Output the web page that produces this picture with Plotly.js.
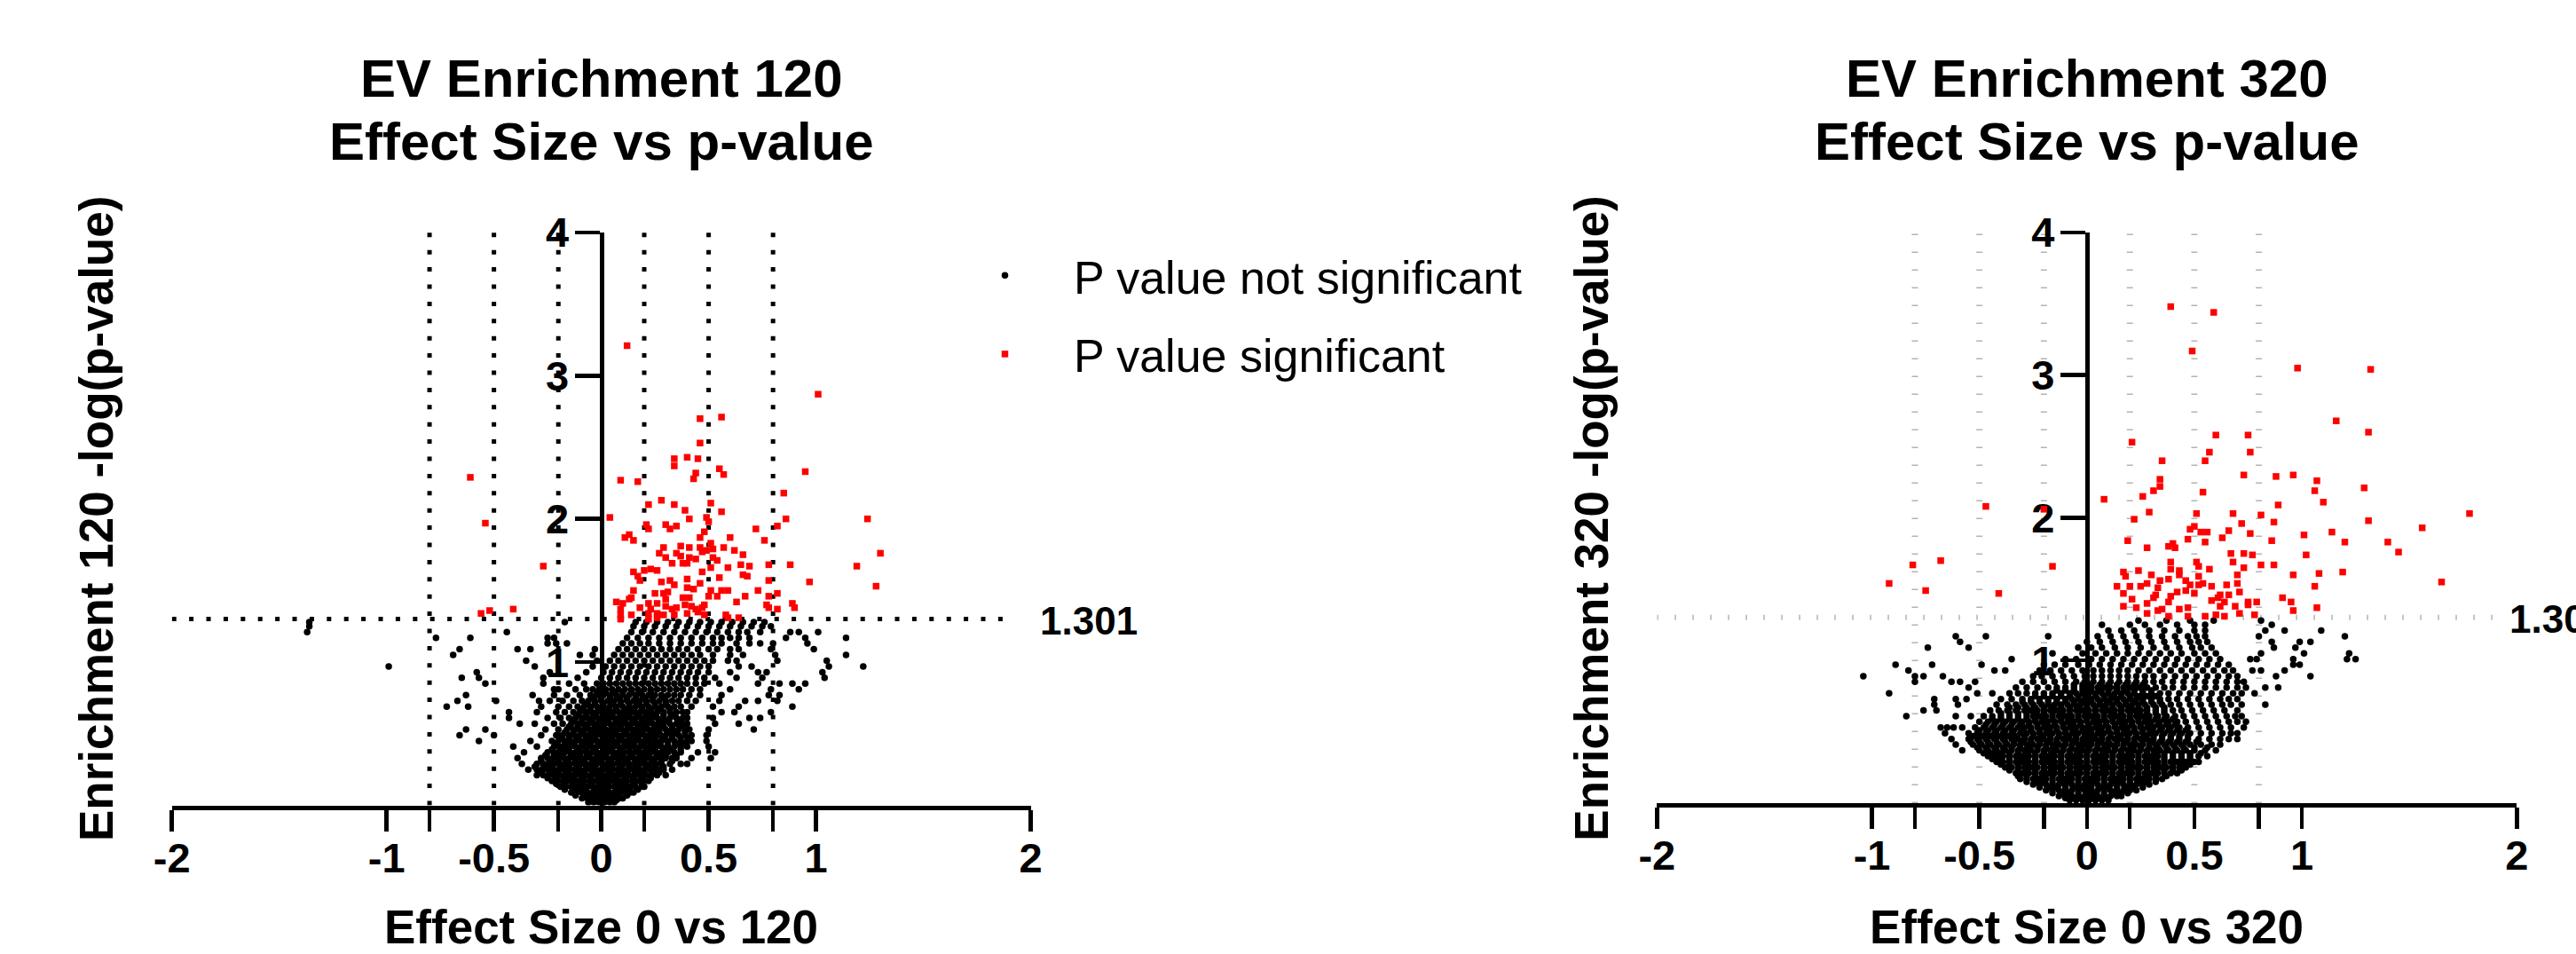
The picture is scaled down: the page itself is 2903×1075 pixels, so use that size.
<!DOCTYPE html>
<html><head><meta charset="utf-8">
<script src="https://cdn.plot.ly/plotly-3.0.1.min.js"></script>
<style>html,body{margin:0;padding:0;background:#fff;} #chart{width:2903px;height:1075px;}</style>
</head><body><div id="chart"></div>
<script>
// ---------- DATA ----------
const xTickVals = [-2, -1, -0.8, -0.5, -0.2, 0, 0.2, 0.5, 0.8, 1, 2];
const xTickText = ['-2', '-1', '', '-0.5', '', '0', '', '0.5', '', '1', '2'];
const yTickVals = [1, 2, 3, 4];
const effectCutoffs = [-0.8, -0.5, -0.2, 0.2, 0.5, 0.8];
const pThreshold = 1.301;
const legendNames = ['P value not significant', 'P value significant'];

// EV Enrichment 120 : significant (red)
const sig120X = [0.12,1.01,0.46,0.56,0.46,0.34,0.34,0.40,0.45,0.55,0.57,0.44,0.43,0.95,0.09,0.17,0.85,0.28,0.22,0.34,0.39,0.51,0.56,0.04,0.41,0.49,0.50,0.86,0.82,1.24,0.21,0.22,0.30,0.32,0.35,0.72,0.13,0.11,0.15,0.48,0.46,0.60,0.76,1.30,0.29,0.37,0.41,0.46,0.51,0.52,0.57,0.62,0.66,0.27,0.30,0.35,0.37,0.41,0.44,0.47,0.49,0.52,0.54,0.38,0.40,0.33,0.65,0.69,0.78,0.88,1.19,0.23,0.26,0.20,0.15,0.51,0.59,0.47,0.17,0.18,0.66,0.68,0.55,0.40,0.28,0.32,0.34,0.46,0.78,0.97,1.28,0.15,0.25,0.29,0.31,0.40,0.43,0.38,0.41,0.51,0.56,0.59,0.50,0.54,0.73,0.78,0.82,0.67,0.13,0.14,0.30,0.22,0.07,0.10,0.26,0.63,0.77,0.89,0.90,0.09,0.18,0.23,0.30,0.35,0.33,0.42,0.39,0.44,0.47,0.48,0.78,0.82,0.09,0.14,0.22,0.26,0.29,0.34,0.40,0.45,0.48,0.58,0.64,0.09,0.22,0.26,0.59,-0.61,-0.54,-0.27,-0.56,-0.52,-0.41];
const sig120Y = [3.21,2.87,2.70,2.71,2.53,2.42,2.37,2.43,2.42,2.35,2.31,2.32,2.28,2.33,2.27,2.26,2.18,2.13,2.10,2.10,2.06,2.11,2.05,2.01,2.00,2.01,1.98,2.00,1.95,2.00,1.96,1.93,1.96,1.93,1.95,1.93,1.89,1.87,1.85,1.91,1.87,1.87,1.85,1.76,1.80,1.81,1.80,1.80,1.83,1.79,1.80,1.78,1.75,1.76,1.73,1.76,1.74,1.73,1.72,1.77,1.78,1.73,1.71,1.69,1.69,1.69,1.68,1.67,1.68,1.68,1.67,1.65,1.64,1.64,1.63,1.66,1.66,1.63,1.60,1.57,1.61,1.60,1.59,1.58,1.56,1.57,1.54,1.55,1.57,1.56,1.53,1.50,1.48,1.48,1.49,1.52,1.51,1.45,1.45,1.50,1.50,1.50,1.46,1.46,1.50,1.46,1.48,1.46,1.44,1.45,1.44,1.41,1.42,1.41,1.41,1.42,1.40,1.41,1.38,1.37,1.38,1.37,1.39,1.38,1.37,1.39,1.40,1.37,1.38,1.40,1.38,1.37,1.33,1.33,1.34,1.34,1.33,1.33,1.34,1.35,1.33,1.33,1.31,1.30,1.30,1.31,1.31,2.29,1.97,1.67,1.34,1.36,1.37];

// EV Enrichment 120 : not significant (black), rows of [ -log(p), effect sizes ]
const ns120Rows = [
 [0.02,[-0.06,-0.035,-0.01,0.015,0.04,0.06]],
 [0.035,[-0.05,-0.02,0.01,0.04,0.07]],
 [0.05,[-0.09,-0.065,-0.04,-0.015,0.01,0.035,0.06,0.085,0.10]],
 [0.07,[-0.12,-0.08,-0.05,-0.02,0.02,0.05,0.08,0.12]],
 [0.09,[-0.14,-0.115,-0.09,-0.065,-0.04,-0.015,0.01,0.035,0.06,0.085,0.11,0.135,0.15]],
 [0.11,[-0.17,-0.13,-0.10,-0.07,-0.03,0.0,0.03,0.07,0.10,0.13,0.17]],
 [0.13,[-0.19,-0.165,-0.14,-0.115,-0.09,-0.065,-0.04,-0.015,0.01,0.035,0.06,0.085,0.11,0.135,0.16,0.19,0.20]],
 [0.15,[-0.21,-0.17,-0.13,-0.09,-0.05,-0.01,0.03,0.07,0.11,0.15,0.19]],
 [0.17,[-0.23,-0.205,-0.18,-0.155,-0.13,-0.105,-0.08,-0.055,-0.03,-0.005,0.02,0.045,0.07,0.095,0.12,0.145,0.17,0.195,0.22]],
 [0.19,[-0.25,-0.21,-0.17,-0.13,-0.09,-0.05,-0.01,0.03,0.07,0.11,0.15,0.19,0.23]],
 [0.21,[-0.30,-0.27,-0.245,-0.22,-0.195,-0.17,-0.145,-0.12,-0.095,-0.07,-0.045,-0.02,0.005,0.03,0.055,0.08,0.105,0.13,0.155,0.18,0.205,0.23,0.26,0.30]],
 [0.23,[-0.28,-0.24,-0.20,-0.16,-0.12,-0.08,-0.04,0.0,0.04,0.08,0.12,0.16,0.20,0.24,0.27]],
 [0.25,[-0.34,-0.30,-0.275,-0.25,-0.225,-0.2,-0.175,-0.15,-0.125,-0.1,-0.075,-0.05,-0.025,0,0.025,0.05,0.075,0.1,0.125,0.15,0.175,0.2,0.225,0.25,0.27,0.29,0.33]],
 [0.27,[-0.31,-0.27,-0.23,-0.19,-0.15,-0.11,-0.07,-0.03,0.01,0.05,0.09,0.13,0.17,0.21,0.25,0.29]],
 [0.29,[-0.37,-0.30,-0.27,-0.245,-0.22,-0.195,-0.17,-0.145,-0.12,-0.095,-0.07,-0.045,-0.02,0.005,0.03,0.055,0.08,0.105,0.13,0.155,0.18,0.205,0.23,0.255,0.28,0.32,0.37,0.40]],
 [0.31,[-0.28,-0.24,-0.20,-0.16,-0.12,-0.08,-0.04,0.0,0.04,0.08,0.12,0.16,0.20,0.24,0.28,0.33]],
 [0.33,[-0.39,-0.28,-0.25,-0.225,-0.2,-0.175,-0.15,-0.125,-0.1,-0.075,-0.05,-0.025,0,0.025,0.05,0.075,0.1,0.125,0.15,0.175,0.2,0.225,0.25,0.275,0.30,0.33,0.35,0.42,0.51]],
 [0.35,[-0.26,-0.22,-0.18,-0.14,-0.10,-0.06,-0.02,0.02,0.06,0.10,0.14,0.18,0.22,0.26,0.30,0.35]],
 [0.37,[-0.36,-0.25,-0.22,-0.195,-0.17,-0.145,-0.12,-0.095,-0.07,-0.045,-0.02,0.005,0.03,0.055,0.08,0.105,0.13,0.155,0.18,0.205,0.23,0.255,0.28,0.31,0.34,0.37,0.45,0.53]],
 [0.39,[-0.23,-0.19,-0.15,-0.11,-0.07,-0.03,0.01,0.05,0.09,0.13,0.17,0.21,0.25,0.29,0.33,0.37]],
 [0.41,[-0.41,-0.30,-0.22,-0.195,-0.17,-0.145,-0.12,-0.095,-0.07,-0.045,-0.02,0.005,0.03,0.055,0.08,0.105,0.13,0.155,0.18,0.205,0.23,0.255,0.28,0.31,0.34,0.37,0.40,0.50]],
 [0.43,[-0.21,-0.17,-0.13,-0.09,-0.05,-0.01,0.03,0.07,0.11,0.15,0.19,0.23,0.27,0.31,0.35,0.39]],
 [0.45,[-0.57,-0.33,-0.23,-0.20,-0.17,-0.145,-0.12,-0.095,-0.07,-0.045,-0.02,0.005,0.03,0.055,0.08,0.105,0.13,0.155,0.18,0.205,0.23,0.255,0.28,0.31,0.34,0.37,0.40,0.42,0.49]],
 [0.47,[-0.19,-0.15,-0.11,-0.07,-0.03,0.01,0.05,0.09,0.13,0.17,0.21,0.25,0.29,0.33,0.37,0.41]],
 [0.49,[-0.66,-0.50,-0.28,-0.21,-0.18,-0.15,-0.125,-0.1,-0.075,-0.05,-0.025,0,0.025,0.05,0.075,0.1,0.125,0.15,0.175,0.2,0.225,0.25,0.275,0.30,0.33,0.36,0.39,0.42,0.49]],
 [0.51,[-0.17,-0.13,-0.09,-0.05,-0.01,0.03,0.07,0.11,0.15,0.19,0.23,0.27,0.31,0.35,0.39]],
 [0.53,[-0.63,-0.54,-0.26,-0.20,-0.16,-0.13,-0.105,-0.08,-0.055,-0.03,-0.005,0.02,0.045,0.07,0.095,0.12,0.145,0.17,0.195,0.22,0.245,0.27,0.30,0.33,0.36,0.39,0.41,0.50,0.71]],
 [0.55,[-0.15,-0.11,-0.07,-0.03,0.01,0.05,0.09,0.13,0.17,0.21,0.25,0.29,0.33,0.37]],
 [0.57,[-0.38,-0.31,-0.22,-0.18,-0.14,-0.11,-0.085,-0.06,-0.035,-0.01,0.015,0.04,0.065,0.09,0.115,0.14,0.165,0.19,0.215,0.24,0.265,0.29,0.32,0.35,0.38,0.40,0.53,0.64]],
 [0.59,[-0.13,-0.09,-0.05,-0.01,0.03,0.07,0.11,0.15,0.19,0.23,0.27,0.31,0.36]],
 [0.61,[-0.43,-0.25,-0.19,-0.15,-0.12,-0.09,-0.065,-0.04,-0.015,0.01,0.035,0.06,0.085,0.11,0.135,0.16,0.185,0.21,0.235,0.26,0.29,0.32,0.35,0.38,0.40,0.52,0.69,0.74]],
 [0.63,[-0.11,-0.07,-0.03,0.01,0.05,0.09,0.13,0.17,0.21,0.25,0.29,0.34]],
 [0.65,[-0.43,-0.30,-0.21,-0.17,-0.13,-0.10,-0.07,-0.045,-0.02,0.005,0.03,0.055,0.08,0.105,0.13,0.155,0.18,0.205,0.23,0.26,0.29,0.32,0.35,0.38,0.40,0.56,0.62,0.79]],
 [0.67,[-0.09,-0.05,-0.01,0.03,0.07,0.11,0.15,0.19,0.23,0.27,0.32]],
 [0.69,[-0.72,-0.62,-0.28,-0.20,-0.15,-0.11,-0.08,-0.05,-0.02,0.01,0.04,0.07,0.10,0.13,0.16,0.19,0.22,0.25,0.28,0.31,0.34,0.37,0.42,0.52,0.64,0.89]],
 [0.71,[-0.07,-0.03,0.01,0.05,0.09,0.13,0.17,0.21,0.25,0.30]],
 [0.73,[-0.67,-0.49,-0.29,-0.24,-0.18,-0.13,-0.09,-0.06,-0.03,0,0.03,0.06,0.09,0.12,0.15,0.18,0.21,0.24,0.27,0.30,0.33,0.36,0.40,0.44,0.55,0.67,0.73,0.82]],
 [0.75,[-0.04,0.0,0.04,0.08,0.12,0.16,0.20,0.24,0.29]],
 [0.77,[-0.63,-0.32,-0.22,-0.16,-0.10,-0.05,-0.02,0.01,0.04,0.07,0.10,0.13,0.16,0.19,0.22,0.25,0.28,0.31,0.34,0.37,0.41,0.46,0.56,0.78,0.83]],
 [0.79,[-0.02,0.02,0.06,0.10,0.14,0.18,0.23]],
 [0.81,[-0.22,-0.20,-0.12,-0.07,-0.04,-0.01,0.02,0.05,0.08,0.11,0.14,0.17,0.20,0.23,0.26,0.29,0.32,0.35,0.38,0.42,0.46,0.60,0.79,0.92]],
 [0.85,[-0.54,-0.27,-0.15,-0.08,-0.02,0.01,0.04,0.07,0.10,0.13,0.16,0.19,0.22,0.25,0.28,0.31,0.34,0.37,0.40,0.44,0.48,0.55,0.73,0.83,0.89,0.95]],
 [0.89,[-0.65,-0.57,-0.27,-0.11,0.00,0.04,0.08,0.12,0.16,0.20,0.24,0.28,0.32,0.36,0.40,0.44,0.48,0.53,0.63,0.75,1.04]],
 [0.93,[-0.58,-0.24,-0.07,0.01,0.05,0.09,0.13,0.17,0.21,0.25,0.29,0.33,0.37,0.41,0.45,0.50,0.60,0.73,0.77,1.03]],
 [0.97,[-0.99,-0.31,-0.04,0.02,0.06,0.10,0.14,0.18,0.22,0.26,0.30,0.34,0.38,0.42,0.46,0.50,0.64,0.70,1.06,1.22]],
 [1.01,[-0.35,-0.02,0.04,0.08,0.12,0.16,0.20,0.24,0.28,0.32,0.36,0.40,0.44,0.48,0.52,0.59,0.63,0.82,1.05]],
 [1.05,[-0.69,-0.10,-0.04,0.06,0.10,0.14,0.18,0.22,0.26,0.30,0.34,0.38,0.42,0.46,0.52,0.60,0.66,0.81,1.14]],
 [1.09,[-0.66,-0.39,-0.33,-0.03,0.08,0.12,0.16,0.20,0.24,0.28,0.32,0.36,0.40,0.45,0.50,0.54,0.60,0.64,0.79,0.99]],
 [1.13,[-0.25,-0.21,-0.16,0.10,0.14,0.18,0.22,0.27,0.32,0.37,0.42,0.47,0.52,0.56,0.63,0.69,0.74,0.80,0.96]],
 [1.17,[-0.77,-0.61,-0.25,-0.22,0.12,0.17,0.22,0.27,0.32,0.37,0.42,0.47,0.52,0.56,0.60,0.64,0.69,0.86,0.95,1.14]],
 [1.21,[-1.37,-0.44,0.14,0.19,0.24,0.29,0.34,0.39,0.44,0.49,0.54,0.59,0.64,0.68,0.74,0.88,0.92,1.01]],
 [1.25,[-1.36,0.15,0.20,0.25,0.30,0.35,0.40,0.45,0.50,0.55,0.60,0.65,0.70,0.75,0.79]],
 [1.28,[-1.36,-0.17,0.16,0.21,0.26,0.31,0.36,0.41,0.46,0.51,0.56,0.61,0.66,0.71,0.76]]
];

// EV Enrichment 320 : significant (red)
const sig320X = [0.39,0.59,0.49,0.98,1.32,1.16,1.31,0.21,0.60,0.75,0.57,0.76,0.35,0.55,0.73,0.88,0.96,1.07,0.34,0.34,0.31,0.26,0.54,1.06,1.29,0.08,1.10,0.89,0.29,0.51,0.68,0.81,1.78,0.22,0.72,0.87,1.31,0.50,0.48,0.53,0.56,0.66,0.76,1.01,1.14,1.56,0.63,0.19,0.47,0.55,0.86,1.20,1.40,0.40,0.38,0.41,0.28,1.45,0.67,0.73,0.77,1.02,0.68,0.81,0.87,0.51,0.39,0.52,0.39,0.57,0.73,0.24,0.43,0.17,0.18,0.30,0.96,1.08,1.19,0.43,0.38,0.52,0.70,0.34,0.48,0.54,0.58,0.65,0.70,1.06,1.65,0.14,0.20,0.25,0.28,0.33,0.46,0.71,0.17,0.21,0.31,0.32,0.39,0.42,0.50,0.62,0.66,0.91,0.58,0.64,0.38,0.79,0.75,0.95,0.28,0.69,0.62,0.17,0.23,0.35,0.43,0.47,0.75,1.07,0.96,0.78,0.71,0.55,0.60,0.64,0.47,0.38,0.28,0.33,0.61,0.52,0.46,-0.47,-0.20,-0.16,-0.68,-0.81,-0.92,-0.75,-0.41];
const sig320Y = [3.48,3.44,3.17,3.05,3.04,2.68,2.60,2.53,2.58,2.58,2.46,2.46,2.40,2.40,2.30,2.29,2.30,2.26,2.27,2.22,2.19,2.15,2.18,2.19,2.21,2.13,2.11,2.09,2.04,2.03,2.03,2.02,2.03,1.99,1.96,1.97,1.98,1.94,1.92,1.90,1.90,1.91,1.89,1.88,1.90,1.93,1.86,1.84,1.85,1.83,1.84,1.83,1.83,1.82,1.80,1.79,1.79,1.76,1.75,1.75,1.74,1.74,1.69,1.67,1.67,1.69,1.69,1.66,1.64,1.64,1.65,1.63,1.63,1.62,1.59,1.60,1.60,1.61,1.62,1.60,1.57,1.59,1.60,1.56,1.53,1.54,1.52,1.53,1.54,1.52,1.55,1.52,1.52,1.52,1.54,1.51,1.49,1.48,1.47,1.43,1.44,1.46,1.45,1.48,1.47,1.46,1.46,1.44,1.42,1.41,1.41,1.41,1.41,1.41,1.40,1.38,1.38,1.38,1.37,1.36,1.36,1.37,1.39,1.37,1.35,1.32,1.33,1.31,1.32,1.31,1.31,1.31,1.33,1.35,1.44,1.53,1.56,2.08,2.06,1.66,1.70,1.67,1.54,1.49,1.47];

// EV Enrichment 320 : not significant (black)
const ns320Rows = [
 [0.02,[-0.08,-0.05,-0.02,0.01,0.04,0.07,0.10]],
 [0.035,[-0.10,-0.06,-0.03,0.0,0.03,0.06,0.09]],
 [0.05,[-0.13,-0.10,-0.07,-0.04,-0.01,0.02,0.05,0.08,0.11,0.14,0.16]],
 [0.07,[-0.16,-0.12,-0.08,-0.04,0.0,0.04,0.08,0.12,0.16,0.19]],
 [0.09,[-0.19,-0.16,-0.13,-0.10,-0.07,-0.04,-0.01,0.02,0.05,0.08,0.11,0.14,0.17,0.20,0.23]],
 [0.11,[-0.22,-0.18,-0.14,-0.10,-0.06,-0.02,0.02,0.06,0.10,0.14,0.18,0.22,0.26]],
 [0.13,[-0.25,-0.22,-0.19,-0.16,-0.13,-0.10,-0.07,-0.04,-0.01,0.02,0.05,0.08,0.11,0.14,0.17,0.20,0.23,0.26,0.29]],
 [0.15,[-0.28,-0.24,-0.20,-0.16,-0.12,-0.08,-0.04,0.0,0.04,0.08,0.12,0.16,0.20,0.24,0.28,0.32]],
 [0.17,[-0.31,-0.28,-0.25,-0.22,-0.19,-0.16,-0.13,-0.10,-0.07,-0.04,-0.01,0.02,0.05,0.08,0.11,0.14,0.17,0.20,0.23,0.26,0.29,0.32,0.35]],
 [0.19,[-0.32,-0.28,-0.24,-0.20,-0.16,-0.12,-0.08,-0.04,0.0,0.04,0.08,0.12,0.16,0.20,0.24,0.28,0.32,0.37]],
 [0.21,[-0.33,-0.30,-0.27,-0.24,-0.21,-0.18,-0.15,-0.12,-0.09,-0.06,-0.03,0,0.03,0.06,0.09,0.12,0.15,0.18,0.21,0.24,0.27,0.30,0.33,0.36,0.39,0.42]],
 [0.23,[-0.36,-0.32,-0.28,-0.24,-0.20,-0.16,-0.12,-0.08,-0.04,0.0,0.04,0.08,0.12,0.16,0.20,0.24,0.28,0.32,0.36,0.40,0.44]],
 [0.25,[-0.38,-0.35,-0.32,-0.29,-0.26,-0.23,-0.20,-0.17,-0.14,-0.11,-0.08,-0.05,-0.02,0.01,0.04,0.07,0.10,0.13,0.16,0.19,0.22,0.25,0.28,0.31,0.34,0.37,0.40,0.43,0.46]],
 [0.27,[-0.40,-0.36,-0.32,-0.28,-0.24,-0.20,-0.16,-0.12,-0.08,-0.04,0.0,0.04,0.08,0.12,0.16,0.20,0.24,0.28,0.32,0.36,0.40,0.44,0.48]],
 [0.29,[-0.42,-0.39,-0.36,-0.33,-0.30,-0.27,-0.24,-0.21,-0.18,-0.15,-0.12,-0.09,-0.06,-0.03,0,0.03,0.06,0.09,0.12,0.15,0.18,0.21,0.24,0.27,0.30,0.33,0.36,0.39,0.42,0.46,0.50,0.52]],
 [0.31,[-0.44,-0.40,-0.36,-0.32,-0.28,-0.24,-0.20,-0.16,-0.12,-0.08,-0.04,0.0,0.04,0.08,0.12,0.16,0.20,0.24,0.28,0.32,0.36,0.40,0.44,0.48]],
 [0.33,[-0.46,-0.42,-0.39,-0.36,-0.33,-0.30,-0.27,-0.24,-0.21,-0.18,-0.15,-0.12,-0.09,-0.06,-0.03,0,0.03,0.06,0.09,0.12,0.15,0.18,0.21,0.24,0.27,0.30,0.33,0.36,0.40,0.44,0.48,0.52,0.56]],
 [0.35,[-0.48,-0.44,-0.40,-0.36,-0.32,-0.28,-0.24,-0.20,-0.16,-0.12,-0.08,-0.04,0.0,0.04,0.08,0.12,0.16,0.20,0.24,0.28,0.32,0.36,0.40,0.44,0.48,0.53]],
 [0.37,[-0.58,-0.50,-0.46,-0.42,-0.38,-0.35,-0.32,-0.29,-0.26,-0.23,-0.20,-0.17,-0.14,-0.11,-0.08,-0.05,-0.02,0.01,0.04,0.07,0.10,0.13,0.16,0.19,0.22,0.25,0.28,0.31,0.34,0.38,0.42,0.46,0.50,0.55,0.60]],
 [0.39,[-0.51,-0.47,-0.43,-0.39,-0.35,-0.31,-0.27,-0.23,-0.19,-0.15,-0.11,-0.07,-0.03,0.01,0.05,0.09,0.13,0.17,0.21,0.25,0.29,0.33,0.37,0.41,0.45,0.50,0.56]],
 [0.41,[-0.61,-0.53,-0.49,-0.45,-0.41,-0.37,-0.34,-0.31,-0.28,-0.25,-0.22,-0.19,-0.16,-0.13,-0.10,-0.07,-0.04,-0.01,0.02,0.05,0.08,0.11,0.14,0.17,0.20,0.23,0.26,0.29,0.32,0.36,0.40,0.44,0.48,0.53,0.58,0.62]],
 [0.43,[-0.54,-0.50,-0.46,-0.42,-0.38,-0.34,-0.30,-0.26,-0.22,-0.18,-0.14,-0.10,-0.06,-0.02,0.02,0.06,0.10,0.14,0.18,0.22,0.26,0.30,0.34,0.38,0.42,0.46,0.51]],
 [0.45,[-0.63,-0.55,-0.51,-0.47,-0.43,-0.39,-0.35,-0.32,-0.29,-0.26,-0.23,-0.20,-0.17,-0.14,-0.11,-0.08,-0.05,-0.02,0.01,0.04,0.07,0.10,0.13,0.16,0.19,0.22,0.25,0.28,0.31,0.35,0.39,0.43,0.47,0.52,0.57,0.62,0.66,0.70]],
 [0.47,[-0.53,-0.49,-0.45,-0.41,-0.37,-0.33,-0.29,-0.25,-0.21,-0.17,-0.13,-0.09,-0.05,-0.01,0.03,0.07,0.11,0.15,0.19,0.23,0.27,0.31,0.35,0.39,0.43,0.47]],
 [0.49,[-0.66,-0.55,-0.51,-0.47,-0.43,-0.39,-0.35,-0.31,-0.28,-0.25,-0.22,-0.19,-0.16,-0.13,-0.10,-0.07,-0.04,-0.01,0.02,0.05,0.08,0.11,0.14,0.17,0.20,0.23,0.26,0.29,0.32,0.36,0.40,0.44,0.48,0.53,0.58,0.63,0.67,0.70]],
 [0.51,[-0.50,-0.46,-0.42,-0.38,-0.34,-0.30,-0.26,-0.22,-0.18,-0.14,-0.10,-0.06,-0.02,0.02,0.06,0.10,0.14,0.18,0.22,0.26,0.30,0.34,0.38,0.42,0.46]],
 [0.53,[-0.68,-0.65,-0.62,-0.58,-0.52,-0.48,-0.44,-0.40,-0.36,-0.32,-0.29,-0.26,-0.23,-0.20,-0.17,-0.14,-0.11,-0.08,-0.05,-0.02,0.01,0.04,0.07,0.10,0.13,0.16,0.19,0.22,0.25,0.28,0.31,0.35,0.39,0.43,0.47,0.52,0.57,0.62,0.67,0.73]],
 [0.55,[-0.47,-0.43,-0.39,-0.35,-0.31,-0.27,-0.23,-0.19,-0.15,-0.11,-0.07,-0.03,0.01,0.05,0.09,0.13,0.17,0.21,0.25,0.29,0.33,0.37,0.41]],
 [0.57,[-0.50,-0.46,-0.42,-0.38,-0.34,-0.30,-0.27,-0.24,-0.21,-0.18,-0.15,-0.12,-0.09,-0.06,-0.03,0,0.03,0.06,0.09,0.12,0.15,0.18,0.21,0.24,0.27,0.30,0.34,0.38,0.42,0.46,0.51,0.56,0.61,0.66,0.70,0.74]],
 [0.59,[-0.44,-0.40,-0.36,-0.32,-0.28,-0.24,-0.20,-0.16,-0.12,-0.08,-0.04,0.0,0.04,0.08,0.12,0.16,0.20,0.24,0.28,0.32,0.36,0.40]],
 [0.61,[-0.84,-0.61,-0.54,-0.48,-0.44,-0.40,-0.36,-0.32,-0.28,-0.25,-0.22,-0.19,-0.16,-0.13,-0.10,-0.07,-0.04,-0.01,0.02,0.05,0.08,0.11,0.14,0.17,0.20,0.23,0.26,0.29,0.33,0.37,0.41,0.45,0.50,0.55,0.60,0.65,0.69,0.72]],
 [0.63,[-0.40,-0.36,-0.32,-0.28,-0.24,-0.20,-0.16,-0.12,-0.08,-0.04,0.0,0.04,0.08,0.12,0.16,0.20,0.24,0.28,0.32,0.36]],
 [0.65,[-0.76,-0.70,-0.45,-0.41,-0.37,-0.33,-0.29,-0.26,-0.23,-0.20,-0.17,-0.14,-0.11,-0.08,-0.05,-0.02,0.01,0.04,0.07,0.10,0.13,0.16,0.19,0.22,0.25,0.28,0.32,0.36,0.40,0.44,0.49,0.54,0.59,0.64,0.70]],
 [0.67,[-0.36,-0.32,-0.28,-0.24,-0.20,-0.16,-0.12,-0.08,-0.04,0.0,0.04,0.08,0.12,0.16,0.20,0.24,0.28,0.32,0.36]],
 [0.69,[-0.71,-0.60,-0.42,-0.37,-0.33,-0.29,-0.25,-0.21,-0.18,-0.15,-0.12,-0.09,-0.06,-0.03,0,0.03,0.06,0.09,0.12,0.15,0.18,0.21,0.24,0.27,0.31,0.35,0.39,0.43,0.48,0.53,0.58,0.63,0.67,0.72,0.83]],
 [0.71,[-0.30,-0.26,-0.22,-0.18,-0.14,-0.10,-0.06,-0.02,0.02,0.06,0.10,0.14,0.18,0.22,0.26,0.30,0.34]],
 [0.73,[-0.71,-0.61,-0.56,-0.40,-0.35,-0.30,-0.26,-0.22,-0.18,-0.14,-0.10,-0.07,-0.04,-0.01,0.02,0.05,0.08,0.11,0.14,0.17,0.20,0.23,0.26,0.30,0.34,0.38,0.42,0.47,0.52,0.57,0.62,0.66,0.70]],
 [0.75,[-0.24,-0.20,-0.16,-0.12,-0.08,-0.04,0.0,0.04,0.08,0.12,0.16,0.20,0.24,0.28,0.32]],
 [0.77,[-0.92,-0.51,-0.44,-0.36,-0.32,-0.28,-0.24,-0.20,-0.16,-0.12,-0.08,-0.05,-0.02,0.01,0.04,0.07,0.10,0.13,0.16,0.19,0.22,0.26,0.30,0.34,0.38,0.43,0.48,0.53,0.58,0.63,0.68,0.72,0.78]],
 [0.79,[-0.14,-0.10,-0.06,-0.02,0.02,0.06,0.10,0.14,0.18,0.22,0.26,0.30]],
 [0.81,[-0.55,-0.33,-0.28,-0.23,-0.18,-0.14,-0.10,-0.06,-0.02,0.02,0.05,0.08,0.11,0.14,0.17,0.20,0.24,0.28,0.32,0.36,0.40,0.45,0.50,0.55,0.60,0.65,0.70,0.74,0.83,0.89]],
 [0.83,[-0.06,-0.02,0.02,0.06,0.10,0.14,0.18,0.22,0.26]],
 [0.85,[-0.80,-0.63,-0.59,-0.52,-0.30,-0.25,-0.20,-0.15,-0.10,-0.05,-0.01,0.03,0.07,0.11,0.15,0.19,0.23,0.27,0.31,0.35,0.40,0.45,0.50,0.55,0.60,0.65,0.70,0.73]],
 [0.89,[-1.04,-0.80,-0.76,-0.67,-0.25,-0.21,-0.16,-0.11,-0.06,-0.01,0.03,0.07,0.11,0.15,0.19,0.23,0.27,0.31,0.36,0.41,0.46,0.51,0.56,0.61,0.66,0.70,0.88,1.04]],
 [0.93,[-0.83,-0.43,-0.38,-0.22,-0.17,-0.12,-0.07,-0.02,0.03,0.07,0.11,0.15,0.19,0.24,0.29,0.34,0.39,0.44,0.49,0.54,0.59,0.64,0.68,0.77,0.81,0.92]],
 [0.97,[-0.89,-0.72,-0.49,-0.20,-0.15,-0.10,-0.04,0.01,0.06,0.11,0.16,0.21,0.26,0.31,0.36,0.41,0.46,0.51,0.56,0.61,0.66,0.96,0.99]],
 [1.01,[-0.35,-0.10,-0.05,0.02,0.07,0.12,0.17,0.22,0.27,0.32,0.37,0.42,0.47,0.52,0.57,0.62,0.76,0.79,0.96,1.21,1.25]],
 [1.05,[-0.16,-0.02,0.04,0.09,0.14,0.19,0.24,0.29,0.34,0.39,0.44,0.50,0.55,0.60,0.81,1.01,1.22]],
 [1.09,[-0.74,-0.55,-0.04,0.02,0.07,0.13,0.19,0.25,0.31,0.37,0.43,0.49,0.53,0.58,0.87,0.97]],
 [1.13,[-0.59,0.00,0.06,0.12,0.18,0.24,0.30,0.36,0.42,0.48,0.52,0.56,0.86,0.99,1.04]],
 [1.17,[-0.61,-0.47,-0.18,0.05,0.11,0.17,0.23,0.29,0.35,0.41,0.47,0.51,0.55,0.80,1.20]],
 [1.21,[0.10,0.16,0.22,0.29,0.36,0.43,0.50,0.55,0.83,0.92,1.09]],
 [1.25,[0.07,0.20,0.27,0.34,0.42,0.50,0.55,0.86]],
 [1.28,[0.24,0.37,0.48,0.59,0.81]]
];

// ---------- BUILD ----------
function flattenRows(rows) {
  const xs = [], ys = [];
  rows.forEach(([y, xl]) => xl.forEach(x => { xs.push(x); ys.push(y); }));
  return { xs, ys };
}
const ns120 = flattenRows(ns120Rows);
const ns320 = flattenRows(ns320Rows);

const FONT = 'Liberation Sans, Arial, Helvetica, sans-serif';
const BLACK_MARK = { color: '#000000', size: 7.5, symbol: 'circle' };
const RED_MARK = { color: '#ff0000', size: 7.5, symbol: 'square' };

const traces = [
  { type: 'scatter', mode: 'markers', x: ns120.xs, y: ns120.ys, xaxis: 'x', yaxis: 'y',
    name: legendNames[0], legendgroup: 'ns', marker: BLACK_MARK, hoverinfo: 'x+y' },
  { type: 'scatter', mode: 'markers', x: sig120X, y: sig120Y, xaxis: 'x', yaxis: 'y',
    name: legendNames[1], legendgroup: 'sig', marker: RED_MARK, hoverinfo: 'x+y' },
  { type: 'scatter', mode: 'markers', x: ns320.xs, y: ns320.ys, xaxis: 'x2', yaxis: 'y2',
    name: legendNames[0], legendgroup: 'ns', showlegend: false, marker: BLACK_MARK, hoverinfo: 'x+y' },
  { type: 'scatter', mode: 'markers', x: sig320X, y: sig320Y, xaxis: 'x2', yaxis: 'y2',
    name: legendNames[1], legendgroup: 'sig', showlegend: false, marker: RED_MARK, hoverinfo: 'x+y' }
];

const tickFont = { family: FONT, size: 47, weight: 700, color: '#000' };
function xAxis(domain, anchor) {
  return { domain, anchor, range: [-2, 2], tickmode: 'array', tickvals: xTickVals, ticktext: xTickText,
    ticks: 'outside', ticklen: 24, tickwidth: 4.5, tickcolor: '#000', showline: true, linewidth: 5,
    linecolor: '#000', showgrid: false, zeroline: false, tickfont: tickFont, ticklabelstandoff: -10,
    layer: 'below traces', fixedrange: true };
}
function yAxis(domain, position) {
  return { domain, anchor: 'free', position, range: [0, 4], tickmode: 'array', tickvals: yTickVals,
    ticks: 'outside', ticklen: 28, tickwidth: 4.5, tickcolor: '#000', showline: true, linewidth: 5,
    linecolor: '#000', showgrid: false, zeroline: false, tickfont: tickFont, ticklabelstandoff: -3,
    layer: 'below traces', fixedrange: true };
}

const shapes = [];
effectCutoffs.forEach(v => {
  shapes.push({ type: 'line', xref: 'x', yref: 'y', x0: v, x1: v, y0: 0, y1: 4, layer: 'below',
    line: { color: '#000', width: 5, dash: '5px,14.4px' } });
  shapes.push({ type: 'line', xref: 'x2', yref: 'y2', x0: v, x1: v, y0: 0, y1: 4, layer: 'below',
    line: { color: '#b4b4b4', width: 7, dash: '1.5px,18.5px' } });
});
shapes.push({ type: 'line', xref: 'x', yref: 'y', x0: -2, x1: 1.9, y0: pThreshold, y1: pThreshold, layer: 'below',
  line: { color: '#000', width: 5, dash: '5px,14.4px' } });
shapes.push({ type: 'line', xref: 'x2', yref: 'y2', x0: -2, x1: 1.9, y0: pThreshold, y1: pThreshold, layer: 'below',
  line: { color: '#b4b4b4', width: 6, dash: '1.5px,18.5px' } });

function ann(text, x, y, size, extra) {
  return Object.assign({ text, x, y, xref: 'paper', yref: 'paper', xanchor: 'center', yanchor: 'middle',
    showarrow: false, font: { family: FONT, size, weight: 700, color: '#000' } }, extra || {});
}
const annotations = [
  ann('EV Enrichment 120', 0.23342, 0.9181, 60),
  ann('Effect Size vs p-value', 0.23342, 0.8512, 60),
  ann('EV Enrichment 320', 0.81013, 0.9181, 60),
  ann('Effect Size vs p-value', 0.81013, 0.8512, 60),
  ann('Effect Size 0 vs 120', 0.23342, 0.0288, 53),
  ann('Effect Size 0 vs 320', 0.81013, 0.0288, 53),
  ann('Enrichment 120 -log(p-value)', 0.0372, 0.4567, 53, { textangle: -90 }),
  ann('Enrichment 320 -log(p-value)', 0.6175, 0.4567, 53, { textangle: -90 }),
  ann(String(pThreshold), 0.40303, 0.349, 44, { xanchor: 'left' }),
  ann(String(pThreshold), 0.97348, 0.351, 44, { xanchor: 'left' })
];

const layout = {
  width: 2903, height: 1075, margin: { l: 0, r: 0, t: 0, b: 0 },
  paper_bgcolor: '#fff', plot_bgcolor: 'rgba(0,0,0,0)',
  font: { family: FONT, color: '#000' },
  xaxis: xAxis([0.06673, 0.40011], 'y'),
  yaxis: yAxis([0.1558, 0.7564], 0.23342),
  xaxis2: xAxis([0.64323, 0.97702], 'y2'),
  yaxis2: yAxis([0.15814, 0.75628], 0.81013),
  showlegend: true,
  legend: { x: 1055 / 2903, y: (1075 - 270) / 1075, xanchor: 'left', yanchor: 'top',
    font: { family: FONT, size: 52, color: '#000' }, itemsizing: 'trace', itemwidth: 145,
    bgcolor: 'rgba(0,0,0,0)', borderwidth: 0, tracegroupgap: 18 },
  shapes, annotations
};

Plotly.newPlot('chart', traces, layout, { staticPlot: true, displayModeBar: false });
</script></body></html>
